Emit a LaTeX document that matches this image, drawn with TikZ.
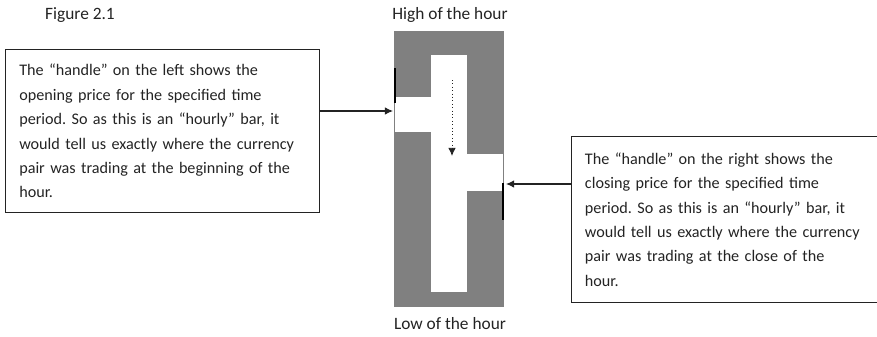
\documentclass[tikz,border=0pt]{standalone}
\usepackage{fontspec}
\setmainfont{Carlito}
\usetikzlibrary{arrows.meta, positioning}
\definecolor{barfill}{RGB}{128,128,128}
\definecolor{ink}{RGB}{35,35,35}
\frenchspacing

\begin{document}
\begin{tikzpicture}[
    x=0.03cm, y=-0.03cm,
    note/.style={rectangle, draw=ink, line width=1.1pt, anchor=north west, text width=8.6cm, align=left, inner xsep=0.4cm, font=\fontsize{13.8}{20.8}\selectfont, text=ink},
    heading/.style={font=\fontsize{14.8}{17}\selectfont, text=ink},
    pointer/.style={-{Latex[length=7pt, width=6.5pt]}, line width=0.9pt, draw=ink},
    handle/.style={line width=1.4pt, draw=black}
]
\useasboundingbox (0,0) rectangle (877,336);

\node[heading] (fig) at (80,15) {Figure 2.1};
\node[heading] (high) at (450,15) {High of the hour};
\node[heading] (low) at (450,324) {Low of the hour};

\node[rectangle, fill=barfill, minimum width=3.3cm, minimum height=8.28cm, inner sep=0pt] (bar) at (449,169) {};
\fill[white] (431,55) rectangle (467,292);
\fill[white] (395,97) rectangle (431,132);
\fill[white] (467,154) rectangle (503,191);
\draw[handle] (395,68) -- (395,103);
\draw[handle] (503,183) -- (503,220);

\coordinate (drift start) at (452,80);
\coordinate (drift end) at (452,156);
\draw[pointer, dotted, line width=0.8pt] (drift start) -- (drift end);

\node[note, minimum width=9.42cm, minimum height=4.89cm] (opennote) at (5,49) {The “handle” on the left shows the\\opening price for the specified time\\period. So as this is an “hourly” bar, it\\would tell us exactly where the currency\\pair was trading at the beginning of the\\hour.};
\node[note, minimum width=9.4cm, minimum height=4.98cm, inner xsep=0.36cm] (closenote) at (571,136) {The “handle” on the right shows the\\closing price for the specified time\\period. So as this is an “hourly” bar, it\\would tell us exactly where the currency\\pair was trading at the close of the\\hour.};

\coordinate (open) at (393,111);
\coordinate (close) at (506,184);
\draw[pointer] (opennote.east |- open) -- (open);
\draw[pointer] (closenote.west |- close) -- (close);
\end{tikzpicture}
\end{document}
